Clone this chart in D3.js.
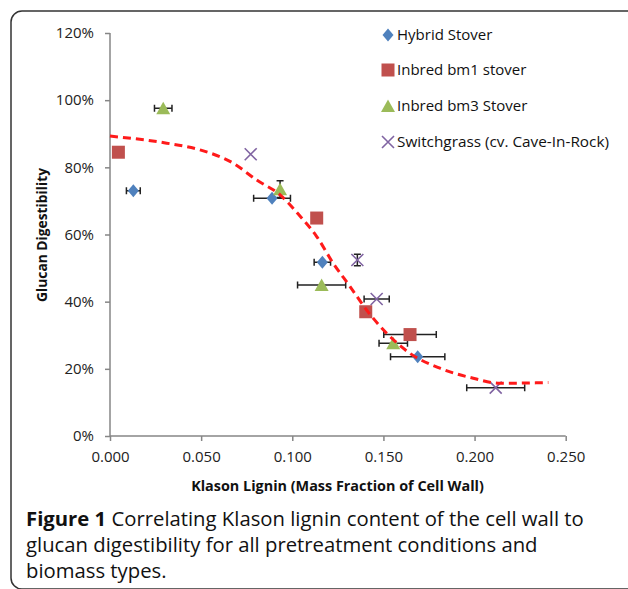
<!DOCTYPE html>
<html><head><meta charset="utf-8">
<script src="https://cdn.jsdelivr.net/npm/d3@7"></script>
<style>html,body{margin:0;padding:0;background:#fff;}svg{display:block;}</style>
</head><body>
<svg id="c" width="628" height="589"></svg>
<script>
// ---- data ----
const seriesNames = ["Hybrid Stover", "Inbred bm1 stover", "Inbred bm3 Stover", "Switchgrass (cv. Cave-In-Rock)"];
const hybridX = [0.0128, 0.0889, 0.1165, 0.1688];
const hybridY = [73.0, 70.8, 51.7, 23.6];
const hybridXErr = [0.0038, 0.0101, 0.0045, 0.0149];
const hybridYErr = [0, 0, 0, 0];
const bm1X = [0.0046, 0.1134, 0.1403, 0.1646];
const bm1Y = [84.5, 64.9, 37.0, 30.2];
const bm1XErr = [0, 0, 0, 0.0144];
const bm1YErr = [0, 0, 0, 0];
const bm3X = [0.0292, 0.0933, 0.1161, 0.1554];
const bm3Y = [97.6, 73.5, 45.0, 27.6];
const bm3XErr = [0.0048, 0, 0.0132, 0.0078];
const bm3YErr = [0, 2.5, 0, 0];
const sgX = [0.0772, 0.1357, 0.1463, 0.2116];
const sgY = [83.9, 52.4, 40.8, 14.4];
const sgXErr = [0, 0, 0.0069, 0.0159];
const sgYErr = [0, 1.7, 0, 0];
// trendline
const trendX = [0.000, 0.0311, 0.0494, 0.0677, 0.0805, 0.0933, 0.1042, 0.1134, 0.1225, 0.1317, 0.1408, 0.1518, 0.1646, 0.1810, 0.1993, 0.2140, 0.2405];
const trendY = [89.3, 87.2, 85.2, 81.2, 76.2, 71.8, 65.5, 59.4, 51.4, 44.5, 37.5, 30.6, 24.6, 20.2, 17.2, 15.7, 15.9];
const xTicks = [0, 0.05, 0.10, 0.15, 0.20, 0.25];
const yTicks = [0, 20, 40, 60, 80, 100, 120];
const xTitle = "Klason Lignin (Mass Fraction of Cell Wall)";
const yTitle = "Glucan Digestibility";
const captionBold = "Figure 1";
const captionLines = [" Correlating Klason lignin content of the cell wall to", "glucan digestibility for all pretreatment conditions and", "biomass types."];

// ---- styles ----
const colors = ["#4F81BD", "#C0504D", "#9BBB59", "#8064A2"];
const FONT = "'Open Sans', 'DejaVu Sans', sans-serif";

const svg = d3.select("#c");
// frame
svg.append("rect").attr("x", 11).attr("y", 11).attr("width", 640).attr("height", 578)
  .attr("rx", 11).attr("fill", "none").attr("stroke", "#333").attr("stroke-width", 1.5);

const x = d3.scaleLinear().domain([0, 0.25]).range([110, 565.7]);
const y = d3.scaleLinear().domain([0, 120]).range([436, 33]);

// axes
const xAxis = d3.axisBottom(x).tickValues(xTicks).tickFormat(d3.format(".3f")).tickSize(5).tickPadding(10);
const yAxis = d3.axisLeft(y).tickValues(yTicks).tickFormat(d => d + "%").tickSize(5).tickPadding(11);
const gx = svg.append("g").attr("transform", `translate(0,${y(0)})`).call(xAxis);
const gy = svg.append("g").attr("transform", `translate(${x(0)},0)`).call(yAxis);
[gx, gy].forEach(g => {
  g.select(".domain").attr("stroke", "#868686").attr("stroke-width", 1.5);
  g.selectAll(".tick line").attr("stroke", "#868686").attr("stroke-width", 1.5);
  g.selectAll(".tick text").attr("fill", "#222").style("font-family", FONT).style("font-size", "15px");
});
gx.select(".domain").attr("d", `M${x(0)},0H${x(0.25)}`);
gy.select(".domain").attr("d", `M0,${y(0)}V${y(120)}`);

// fit a text element's font size to a target width
function fit(t, target, base) {
  const w = t.node().getComputedTextLength();
  t.style("font-size", (base * target / w).toFixed(2) + "px");
}

// axis titles
const xt = svg.append("text").attr("x", 337.5).attr("y", 491).attr("text-anchor", "middle")
  .style("font-family", FONT).style("font-size", "14px").style("font-weight", "bold").attr("fill", "#111")
  .text(xTitle);
fit(xt, 293, 14);
const yt = svg.append("text").attr("transform", "translate(47,235) rotate(-90)").attr("text-anchor", "middle")
  .style("font-family", FONT).style("font-size", "13px").style("font-weight", "bold").attr("fill", "#111")
  .text(yTitle);
fit(yt, 134, 13);

// markers
function marker(g, i) {
  const c = colors[i];
  if (i === 0) g.append("path").attr("d", "M0,-6.5L5.5,0L0,6.5L-5.5,0Z").attr("fill", c);
  else if (i === 1) g.append("rect").attr("x", -6.5).attr("y", -6.5).attr("width", 13).attr("height", 13).attr("fill", c);
  else if (i === 2) g.append("path").attr("d", "M0,-6.5L7,6L-7,6Z").attr("fill", c);
  else g.append("path").attr("d", "M-6,-6L6,6M-6,6L6,-6").attr("stroke", c).attr("stroke-width", 1.6).attr("fill", "none");
}

const series = [
  {X: hybridX, Y: hybridY, XE: hybridXErr, YE: hybridYErr},
  {X: bm1X, Y: bm1Y, XE: bm1XErr, YE: bm1YErr},
  {X: bm3X, Y: bm3Y, XE: bm3XErr, YE: bm3YErr},
  {X: sgX, Y: sgY, XE: sgXErr, YE: sgYErr}
];

// error bars
const eb = svg.append("g").attr("stroke", "#222").attr("stroke-width", 1.5).attr("fill", "none");
series.forEach(s => {
  s.X.forEach((xv, k) => {
    const px = x(xv), py = y(s.Y[k]);
    if (s.XE[k] > 0) {
      const x0 = x(xv - s.XE[k]), x1 = x(xv + s.XE[k]);
      eb.append("path").attr("d", `M${x0},${py}H${x1}M${x0},${py-3.5}V${py+3.5}M${x1},${py-3.5}V${py+3.5}`);
    }
    if (s.YE[k] > 0) {
      const y0 = y(s.Y[k] - s.YE[k]), y1 = y(s.Y[k] + s.YE[k]);
      eb.append("path").attr("d", `M${px},${y0}V${y1}M${px-3.5},${y0}H${px+3.5}M${px-3.5},${y1}H${px+3.5}`);
    }
  });
});

// points
series.forEach((s, i) => {
  s.X.forEach((xv, k) => {
    marker(svg.append("g").attr("transform", `translate(${x(xv)},${y(s.Y[k])})`), i);
  });
});

// trendline
const trend = trendX.map((v, k) => [v, trendY[k]]);
svg.append("path").datum(trend)
  .attr("d", d3.line().x(d => x(d[0])).y(d => y(d[1])).curve(d3.curveMonotoneX))
  .attr("fill", "none").attr("stroke", "#FF1A1A").attr("stroke-width", 3).attr("stroke-dasharray", "8,5");

// legend
const legY = [35, 70, 106, 142];
seriesNames.forEach((n, i) => {
  marker(svg.append("g").attr("transform", `translate(388,${legY[i]})`), i);
  const t = svg.append("text").attr("x", 397).attr("y", legY[i]).attr("dy", "0.35em")
    .style("font-family", FONT).style("font-size", "15px").attr("fill", "#111").text(n);
  if (i === 3) fit(t, 212, 15);
});

// caption
const capY = [525.5, 551.8, 578.2];
const cap0 = svg.append("text").attr("x", 26).attr("y", capY[0])
  .style("font-family", FONT).style("font-size", "18px").attr("fill", "#111");
cap0.append("tspan").style("font-weight", "bold").text(captionBold);
cap0.append("tspan").text(captionLines[0]);
const w0 = cap0.node().getComputedTextLength();
const capSize = (18 * 558 / w0).toFixed(2) + "px";
cap0.style("font-size", capSize);
for (let k = 1; k < 3; k++) {
  svg.append("text").attr("x", 26).attr("y", capY[k])
    .style("font-family", FONT).style("font-size", capSize).attr("fill", "#111").text(captionLines[k]);
}
</script>
</body></html>
